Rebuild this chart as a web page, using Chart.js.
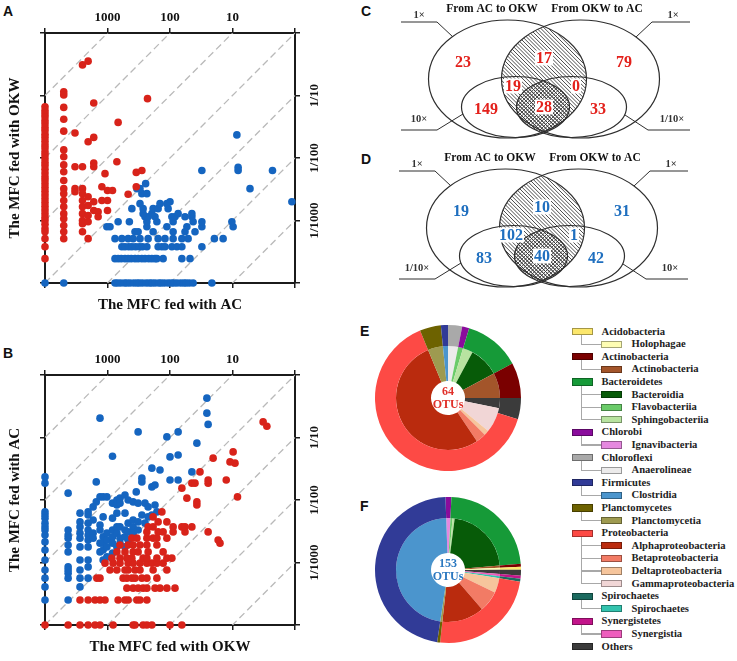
<!DOCTYPE html>
<html>
<head>
<meta charset="utf-8">
<script src="https://cdn.jsdelivr.net/npm/chart.js@4.4.1/dist/chart.umd.min.js"></script>
<style>
  html, body { margin: 0; padding: 0; background: #fff; }
  body { width: 737px; height: 661px; position: relative; overflow: hidden; }
  canvas { position: absolute; }
  .tag { position: absolute; font: bold 14px 'Liberation Sans', Arial, sans-serif; color: #111; line-height: 16px; }
  .lg-text { position: absolute; font: bold 10.6px 'Liberation Serif', 'Times New Roman', serif; color: #222; white-space: nowrap; line-height: 13px; }
  .sw { position: absolute; box-sizing: border-box; border: 1px solid rgba(0,0,0,0.35); }
  .ln { position: absolute; background: #a8a8a8; }
</style>
</head>
<body>
<div class="tag" style="left:3px;top:3px">A</div>
<div class="tag" style="left:3px;top:345px">B</div>
<div class="tag" style="left:361px;top:3px">C</div>
<div class="tag" style="left:361px;top:151px">D</div>
<div class="tag" style="left:360px;top:323px">E</div>
<div class="tag" style="left:360px;top:498px">F</div>

<canvas id="chartA" width="330" height="320" style="left:0;top:0"></canvas>
<canvas id="chartB" width="330" height="320" style="left:0;top:342px"></canvas>
<canvas id="chartC" width="360" height="148" style="left:364px;top:0"></canvas>
<canvas id="chartD" width="360" height="148" style="left:362px;top:149px"></canvas>
<canvas id="chartE" width="150" height="150" style="left:373px;top:323px"></canvas>
<canvas id="chartF" width="150" height="150" style="left:373px;top:495px"></canvas>
<div id="legend"></div>

<script>
const serif = "'Liberation Serif', 'Times New Roman', serif";
const RED = '#D8231A';
const BLUE = '#1565C0';

// axis tick labels (positions in decades, 0..4)
const rankTicks = ['', '1000', '100', '10', ''];
const abundTicks = ['', '1/1000', '1/100', '1/10', ''];
const diagOffsets = [-3, -2, -1, 0, 1, 2, 3];

// A: x = AC, y = OKW (decades from the lower/left edge)
const aRedCols = [
  [0, [2.82, 2.76, 2.71, 2.66, 2.60, 2.55, 2.49, 2.44, 2.38, 2.33, 2.27, 2.21, 2.16, 2.10, 2.05, 1.99, 1.93, 1.88, 1.82, 1.76, 1.70, 1.65, 1.59, 1.53, 1.47, 1.41, 1.35, 1.29, 1.23, 1.17, 1.11, 1.05, 1.00, 0.94, 0.87, 0.82, 0.71, 0.58, 0.39]],
  [0.30, [3.06, 3.01, 2.81, 2.62, 2.43, 2.13, 2.02, 1.89, 1.78, 1.64, 1.51, 1.43, 1.32, 1.22, 1.11, 1.03, 0.92, 0.82, 0.71]],
  [0.48, [2.40, 1.86, 1.51, 1.46]],
  [0.60, [3.49, 1.86, 1.51, 1.43, 1.32, 1.22, 1.11, 1.00, 0.95, 0.82]],
  [0.69, [3.55, 2.26, 1.38, 1.24, 1.08, 0.98, 0.71]],
  [0.78, [2.88, 2.33, 1.92, 1.86, 1.30, 1.16]],
  [0.85, [1.14, 1.06]],
  [0.91, [1.54, 1.32]],
  [0.96, [1.75]],
  [1.00, [1.48, 1.32, 1.16]],
  [1.08, [1.48]],
  [1.15, [1.94]],
  [1.17, [2.57]],
  [1.33, [1.42]],
  [1.46, [1.77, 1.54]],
  [1.55, [1.80]],
  [1.64, [2.95]]
];
const aBlueRows = [
  [0, [0, 0.30, 1.12, 1.16, 1.21, 1.27, 1.31, 1.36, 1.42, 1.47, 1.51, 1.56, 1.62, 1.67, 1.71, 1.76, 1.82, 1.86, 1.91, 1.97, 2.02, 2.06, 2.11, 2.17, 2.22, 2.26, 2.31, 2.37, 2.67]],
  [0.39, [1.12, 1.17, 1.22, 1.28, 1.33, 1.38, 1.44, 1.49, 1.55, 1.60, 1.66, 1.71, 1.76, 1.79, 1.89, 2.19, 2.32]],
  [0.58, [1.23, 1.28, 1.34, 1.39, 1.45, 1.51, 1.56, 1.63, 1.81, 1.87, 1.92, 2.03, 2.11, 2.19, 2.51]],
  [0.71, [1.12, 1.23, 1.33, 1.41, 1.52, 1.65, 1.81, 1.92, 2.05, 2.19, 2.29, 2.71, 2.85]],
  [0.82, [1.44, 1.49, 1.73, 2.05, 2.24, 2.40]],
  [0.90, [0.99, 1.04, 1.63, 1.95, 2.27, 2.51, 3.01]],
  [0.98, [1.17, 1.35, 1.63, 1.79, 2.05, 2.37, 2.51, 2.99]],
  [1.06, [1.60, 1.65, 1.76, 2.03, 2.08, 2.24, 2.35]],
  [1.11, [1.57, 1.71, 2.13, 2.35]],
  [1.19, [1.39, 1.57, 1.73, 1.81, 1.97]],
  [1.27, [1.52, 1.84, 1.95]],
  [1.30, [2.00, 3.95]],
  [1.43, [1.55, 1.63]],
  [1.51, [1.47, 1.52, 3.28]],
  [1.59, [1.61]],
  [1.80, [2.51, 3.09, 3.64]],
  [1.85, [3.09]],
  [2.37, [3.07]]
];

// B: x = OKW, y = AC
const bBlueCols = [
  [0, [2.37, 2.27, 1.81, 1.76, 1.71, 1.63, 1.57, 1.52, 1.44, 1.33, 1.20, 1.04, 0.88, 0.75, 0.61, 0.40]],
  [0.37, [2.11, 1.52, 1.44, 1.39, 1.28, 1.17, 0.93, 0.88, 0.83, 0.75, 0.40]],
  [0.56, [1.79, 1.65, 1.57, 1.47, 1.39, 1.25, 1.04, 0.88, 0.75, 0.61]],
  [0.69, [1.81, 1.76, 1.63, 1.52, 1.44, 1.36, 1.25, 1.04, 0.93, 0.75]],
  [0.77, [1.89, 1.68, 1.47, 1.39]],
  [0.82, [2.29, 1.97]],
  [0.88, [3.31, 2.05, 1.60, 1.52, 1.31, 1.17]],
  [0.93, [2.05, 1.73, 1.41, 1.31, 1.20, 1.04]],
  [0.99, [2.05, 1.47, 1.36, 1.25, 1.09]],
  [1.08, [2.70, 1.95, 1.71, 1.52, 1.41, 1.31, 1.15]],
  [1.15, [2.00, 1.92, 1.79, 1.57, 1.47, 1.25]],
  [1.20, [2.03, 1.95, 1.57, 1.39, 1.31]],
  [1.28, [2.08, 1.79, 1.52, 1.41, 1.25]],
  [1.33, [2.00, 1.63, 1.49, 1.36]],
  [1.41, [1.97, 1.68, 1.57, 1.47]],
  [1.46, [2.13]],
  [1.49, [3.09, 1.95, 1.65, 1.52]],
  [1.55, [2.35, 2.29, 1.76]],
  [1.60, [1.95, 1.63]],
  [1.65, [1.89, 1.73]],
  [1.71, [2.51, 2.21, 1.76]],
  [1.76, [2.24, 1.92]],
  [1.79, [1.81]],
  [1.84, [2.48]],
  [1.95, [3.01]],
  [2.00, [2.69, 2.32]],
  [2.13, [3.09, 2.72, 2.32]],
  [2.35, [2.45]],
  [2.43, [2.91]],
  [2.59, [3.63, 3.39]],
  [2.61, [3.21]]
];
const bRedRows = [
  [0, [0, 0.37, 0.56, 0.69, 0.80, 0.88, 1.09, 1.41, 1.44, 1.57, 1.63, 1.71, 2.00, 2.19]],
  [0.40, [0.56, 0.69, 0.80, 0.88, 0.96, 1.17, 1.28, 1.33, 1.47, 1.52, 1.63]],
  [0.59, [1.31, 1.41, 1.49, 1.57, 1.63, 1.76, 1.84, 1.95, 2.08]],
  [0.75, [0.83, 0.88, 1.25, 1.31, 1.39, 1.44, 1.55, 1.63, 1.79]],
  [0.88, [1.04, 1.15, 1.28, 1.33, 1.44, 1.52, 1.73, 1.95]],
  [0.99, [0.96, 1.09, 1.20, 1.33, 1.41, 1.52, 1.63, 1.71, 1.79, 1.89]],
  [1.07, [1.07, 1.20, 1.31, 1.39, 1.57, 1.63, 1.79, 1.95, 2.03]],
  [1.17, [1.15, 1.28, 1.41, 1.49, 1.65, 1.89]],
  [1.28, [1.20, 1.33, 1.41, 1.52, 1.63, 1.79]],
  [1.31, [2.80]],
  [1.36, [2.77]],
  [1.39, [1.39, 1.47, 1.63, 1.73, 1.79, 1.95]],
  [1.49, [1.63, 1.81, 1.89, 2.05, 2.24, 2.61]],
  [1.57, [1.65, 1.73, 2.05, 2.19, 2.24, 2.35]],
  [1.65, [1.81, 1.95]],
  [1.73, [1.73]],
  [1.81, [1.87]],
  [1.92, [2.43]],
  [1.97, [2.43]],
  [2.03, [2.27]],
  [2.05, [3.08]],
  [2.19, [2.19]],
  [2.27, [2.35, 2.40, 2.61]],
  [2.32, [2.61, 2.90]],
  [2.45, [2.48]],
  [2.59, [3.04]],
  [2.61, [2.96]],
  [2.67, [2.69]],
  [2.77, [3.01]],
  [3.18, [3.55]],
  [3.25, [3.49]]
];

// Venn counts (regions: left only, top lens, right only, left mid, right mid, small left, core, small right)
const cCounts = [23, 17, 79, 19, 0, 149, 28, 33];
const dCounts = [19, 10, 31, 102, 1, 83, 40, 42];
const vennTitles = ['From AC to OKW', 'From OKW to AC'];
const cFolds = ['1×', '1×', '10×', '1/10×'];
const dFolds = ['1×', '1×', '1/10×', '10×'];

// taxonomy legend
const phyla = ['Acidobacteria', 'Actinobacteria', 'Bacteroidetes', 'Chlorobi', 'Chloroflexi', 'Firmicutes', 'Planctomycetes', 'Proteobacteria', 'Spirochaetes', 'Synergistetes', 'Others'];
const phylumColors = ['#FCE76C', '#7A0000', '#169A38', '#8A0C9C', '#A9A9A9', '#313B97', '#6D6200', '#FD4A45', '#1B6A5F', '#C2148A', '#3B3B3B'];
const classes = ['Holophagae', 'Actinobacteria', 'Bacteroidia', 'Flavobacteriia', 'Sphingobacteriia', 'Ignavibacteria', 'Anaerolineae', 'Clostridia', 'Planctomycetia', 'Alphaproteobacteria', 'Betaproteobacteria', 'Deltaproteobacteria', 'Gammaproteobacteria', 'Spirochaetes', 'Synergistia'];
const classColors = ['#FEFDB3', '#A3552A', '#075B08', '#6ACB69', '#B8E3A0', '#E588DF', '#ECEBEB', '#4B95CD', '#9E9A50', '#BA2B0E', '#F27B65', '#F6C59C', '#F1D6D6', '#33C3AE', '#EE5DBD'];
const classPhylum = [0, 1, 2, 2, 2, 3, 4, 5, 6, 7, 7, 7, 7, 8, 9];

// E: 64 OTUs, F: 153 OTUs (clockwise from the top)
const eOuterNames = ['Chloroflexi', 'Chlorobi', 'Bacteroidetes', 'Actinobacteria', 'Others', 'Proteobacteria', 'Planctomycetes', 'Firmicutes'];
const eOuterCounts = [2, 1, 8, 5, 3, 41, 3, 1];
const eInnerNames = ['Anaerolineae', 'Flavobacteriia', 'Sphingobacteriia', 'Bacteroidia', 'Actinobacteria', 'Others', 'Gammaproteobacteria', 'Deltaproteobacteria', 'Betaproteobacteria', 'Alphaproteobacteria', 'Planctomycetia', 'Clostridia'];
const eInnerCounts = [2, 1, 2, 6, 5, 2, 5, 1, 2, 34, 3, 1];
const fOuterNames = ['Chlorobi', 'Bacteroidetes', 'Actinobacteria', 'Acidobacteria', 'Others', 'Synergistetes', 'Spirochaetes', 'Proteobacteria', 'Planctomycetes', 'Firmicutes'];
const fOuterCounts = [2, 35, 1, 1, 2, 1, 1, 37, 1, 72];
const fInnerNames = ['Ignavibacteria', 'Flavobacteriia', 'Sphingobacteriia', 'Bacteroidia', 'Actinobacteria', 'Holophagae', 'Others', 'Synergistia', 'Spirochaetes', 'Deltaproteobacteria', 'Betaproteobacteria', 'Alphaproteobacteria', 'Planctomycetia', 'Clostridia'];
const fInnerCounts = [2, 1, 1, 33, 1, 1, 2, 1, 1, 7, 10, 20, 1, 72];

// ---------- layout constants for the venn panels (px units, y up) ----------
const vennBig = [[-36.5, 0, 79, 59], [36.5, 0, 79, 59]];
const vennSmall = [[-28.5, -28, 54, 30.5], [27.5, -28, 55, 30.5]];
const vennCountPos = [[-81, 17], [0, 21], [80, 17], [-31, -7], [32, -7], [-58, -30], [0, -28], [54, -30]];
const vennTitlePos = [[-52, 70], [53, 70]];
const vennFoldPos = [[-125, 64], [129, 64], [-125, -40], [128, -40]];
const vennLeaders = [
  [[-143, 57], [-107, 57], [-91, 42]],
  [[146, 57], [108, 57], [92, 42]],
  [[-143, -51], [-107, -51], [-81, -35]],
  [[146, -51], [104, -51], [81, -36]]
];

Chart.defaults.font.family = serif;
Chart.defaults.animation = false;
Chart.defaults.plugins.legend.display = false;
Chart.defaults.plugins.tooltip.enabled = false;

const colsToPoints = cols => cols.flatMap(([x, ys]) => ys.map(y => ({ x, y })));
const rowsToPoints = rows => rows.flatMap(([y, xs]) => xs.map(x => ({ x, y })));

function buildScatter(id, red, blue, xTitle, yTitle) {
  const tickFont = { family: serif, size: 13, weight: 'bold' };
  const titleFont = { family: serif, size: 15, weight: 'bold' };
  const grid = () => ({ drawOnChartArea: false, drawTicks: true, tickLength: 5, color: '#1b1b1b', lineWidth: 1.5 });
  const border = () => ({ display: true, color: '#1b1b1b', width: 2 });
  const guides = diagOffsets.map(k => ({
    data: [{ x: 0, y: k }, { x: 4, y: 4 + k }],
    showLine: true, borderColor: '#b9b9b9', borderWidth: 1.3, borderDash: [7, 4],
    pointRadius: 0, clip: 0, order: 3
  }));
  return new Chart(document.getElementById(id), {
    type: 'scatter',
    data: {
      datasets: [
        ...guides,
        { data: blue, backgroundColor: BLUE, pointRadius: 3.8, borderWidth: 0, clip: false, order: 2 },
        { data: red, backgroundColor: RED, pointRadius: 3.8, borderWidth: 0, clip: false, order: 1 }
      ]
    },
    options: {
      responsive: false,
      layout: { padding: 0 },
      scales: {
        x: {
          type: 'linear', position: 'top', min: 0, max: 4,
          ticks: { stepSize: 1, font: tickFont, color: '#111', padding: 3, maxRotation: 0, callback: (v, i) => rankTicks[i] },
          grid: grid(), border: border(),
          afterFit: s => { s.height = 33; }
        },
        x2: {
          type: 'linear', axis: 'x', position: 'bottom', min: 0, max: 4,
          ticks: { stepSize: 1, callback: () => '' },
          grid: grid(), border: border(),
          title: { display: true, text: xTitle, font: titleFont, color: '#111', padding: { top: 0, bottom: 6 } },
          afterFit: s => { s.height = 37; }
        },
        y: {
          type: 'linear', position: 'right', min: 0, max: 4,
          ticks: { stepSize: 1, font: tickFont, color: '#111', padding: -3, minRotation: 90, maxRotation: 90, crossAlign: 'center', callback: (v, i) => abundTicks[i] },
          grid: grid(), border: border(),
          afterFit: s => { s.width = 35; }
        },
        y2: {
          type: 'linear', axis: 'y', position: 'left', min: 0, max: 4,
          ticks: { stepSize: 1, callback: () => '' },
          grid: grid(), border: border(),
          title: { display: true, text: yTitle, font: titleFont, color: '#111', padding: { top: 6, bottom: 0 } },
          afterFit: s => { s.width = 45; }
        }
      }
    }
  });
}

function vennPlugin(counts, color, folds) {
  return {
    id: 'venn',
    beforeDatasetsDraw(chart) {
      const { ctx, chartArea: a, scales: { x, y } } = chart;
      const ux = x.getPixelForValue(1) - x.getPixelForValue(0);
      const uy = y.getPixelForValue(0) - y.getPixelForValue(1);
      const ell = e => {
        ctx.beginPath();
        ctx.ellipse(x.getPixelForValue(e[0]), y.getPixelForValue(e[1]), e[2] * ux, e[3] * uy, 0, 0, Math.PI * 2);
      };
      const hatch = (dir, step) => {
        const h = a.bottom - a.top;
        ctx.beginPath();
        for (let k = a.left - h; k < a.right + h; k += step) {
          if (dir > 0) { ctx.moveTo(k, a.top); ctx.lineTo(k + h, a.bottom); }
          else { ctx.moveTo(k, a.bottom); ctx.lineTo(k + h, a.top); }
        }
        ctx.stroke();
      };
      ctx.save();
      ctx.strokeStyle = '#3a3a3a'; ctx.lineWidth = 0.9;
      ell(vennBig[0]); ctx.clip(); ell(vennBig[1]); ctx.clip();
      hatch(1, 3.8);
      ctx.restore();

      ctx.save();
      ctx.strokeStyle = '#3a3a3a'; ctx.lineWidth = 0.9;
      ell(vennSmall[0]); ctx.clip(); ell(vennSmall[1]); ctx.clip();
      hatch(1, 3.8); hatch(-1, 3.6);
      ctx.restore();

      ctx.save();
      ctx.strokeStyle = '#2e2e2e'; ctx.lineWidth = 1.2;
      [...vennBig, ...vennSmall].forEach(e => { ell(e); ctx.stroke(); });
      ctx.lineWidth = 1;
      vennLeaders.forEach(pts => {
        ctx.beginPath();
        pts.forEach(([px, py], i) => {
          const X = x.getPixelForValue(px), Y = y.getPixelForValue(py);
          if (i) ctx.lineTo(X, Y); else ctx.moveTo(X, Y);
        });
        ctx.stroke();
      });
      ctx.restore();
    },
    afterDatasetsDraw(chart) {
      const { ctx, scales: { x, y } } = chart;
      const meta = chart.getDatasetMeta(0);
      ctx.save();
      ctx.textAlign = 'center';
      ctx.textBaseline = 'middle';
      ctx.font = `bold 16px ${serif}`;
      meta.data.forEach((pt, i) => {
        const t = String(counts[i]);
        const w = ctx.measureText(t).width + 2;
        ctx.fillStyle = '#fff';
        ctx.fillRect(pt.x - w / 2, pt.y - 7.5, w, 15);
        ctx.fillStyle = color;
        ctx.fillText(t, pt.x, pt.y + 1);
      });
      ctx.fillStyle = '#111';
      ctx.font = `bold 11.5px ${serif}`;
      vennTitles.forEach((t, i) => ctx.fillText(t, x.getPixelForValue(vennTitlePos[i][0]), y.getPixelForValue(vennTitlePos[i][1])));
      ctx.fillStyle = '#333';
      ctx.font = `bold 10.5px ${serif}`;
      folds.forEach((t, i) => ctx.fillText(t, x.getPixelForValue(vennFoldPos[i][0]), y.getPixelForValue(vennFoldPos[i][1])));
      ctx.restore();
    }
  };
}

function buildVenn(id, counts, color, folds) {
  return new Chart(document.getElementById(id), {
    type: 'scatter',
    data: { datasets: [{ data: vennCountPos.map(([x, y]) => ({ x, y })), pointRadius: 0 }] },
    options: {
      responsive: false,
      layout: { padding: 0 },
      scales: {
        x: { type: 'linear', display: false, min: -180, max: 180 },
        y: { type: 'linear', display: false, min: -69, max: 79 }
      }
    },
    plugins: [vennPlugin(counts, color, folds)]
  });
}

const phylumColor = Object.fromEntries(phyla.map((p, i) => [p, phylumColors[i]]));
const classColor = Object.fromEntries(classes.map((c, i) => [c, classColors[i]]));
classColor.Others = phylumColor.Others;

function centerText(lines, color) {
  return {
    id: 'centerText',
    afterDraw(chart) {
      const { ctx, chartArea: a } = chart;
      const cx = (a.left + a.right) / 2, cy = (a.top + a.bottom) / 2;
      ctx.save();
      ctx.font = `bold 12px ${serif}`;
      ctx.fillStyle = color;
      ctx.textAlign = 'center';
      ctx.textBaseline = 'middle';
      ctx.fillText(lines[0], cx, cy - 6);
      ctx.fillText(lines[1], cx, cy + 6.5);
      ctx.restore();
    }
  };
}

function buildDonut(id, outerNames, outerCounts, innerNames, innerCounts, rotation, lines, color) {
  return new Chart(document.getElementById(id), {
    type: 'doughnut',
    data: {
      labels: outerNames,
      datasets: [
        { data: outerCounts, backgroundColor: outerNames.map(n => phylumColor[n]), borderWidth: 0, weight: 21 },
        { data: innerCounts, backgroundColor: innerNames.map(n => classColor[n]), borderWidth: 0, weight: 35 }
      ]
    },
    options: { responsive: false, cutout: '23.3%', rotation, layout: { padding: 2 } },
    plugins: [centerText(lines, color)]
  });
}

buildScatter('chartA', colsToPoints(aRedCols), rowsToPoints(aBlueRows), 'The MFC fed with AC', 'The MFC fed with OKW');
buildScatter('chartB', rowsToPoints(bRedRows), colsToPoints(bBlueCols), 'The MFC fed with OKW', 'The MFC fed with AC');
buildVenn('chartC', cCounts, '#E3201B', cFolds);
buildVenn('chartD', dCounts, '#1F6FBF', dFolds);
buildDonut('chartE', eOuterNames, eOuterCounts, eInnerNames, eInnerCounts, 0, ['64', 'OTUs'], '#E0302A');
buildDonut('chartF', fOuterNames, fOuterCounts, fInnerNames, fInnerCounts, -2, ['153', 'OTUs'], '#2A78C0');

// legend tree
const legend = document.getElementById('legend');
function addBox(cls, left, top, w, h, bg) {
  const d = document.createElement('div');
  d.className = cls;
  Object.assign(d.style, { left: left + 'px', top: top + 'px', width: w + 'px', height: h + 'px' });
  if (bg) d.style.background = bg;
  legend.appendChild(d);
}
function addText(left, cy, text) {
  const d = document.createElement('div');
  d.className = 'lg-text';
  d.textContent = text;
  Object.assign(d.style, { left: left + 'px', top: (cy - 7) + 'px' });
  legend.appendChild(d);
}
const rowY = i => 331.5 + 12.6 * i;
let row = 0;
phyla.forEach((p, pi) => {
  const y0 = rowY(row);
  addBox('sw', 572, y0 - 3.6, 21, 7.3, phylumColors[pi]);
  addText(601.5, y0, p);
  row++;
  const kids = classes.map((c, ci) => ci).filter(ci => classPhylum[ci] === pi);
  let lastY = null;
  kids.forEach(ci => {
    const y = rowY(row);
    addBox('ln', 581, y - 0.6, 20, 1.3);
    addBox('sw', 601, y - 3.6, 21, 7.3, classColors[ci]);
    addText(631.5, y, classes[ci]);
    lastY = y;
    row++;
  });
  if (lastY !== null) addBox('ln', 581, y0 + 3.7, 1.3, lastY - y0 - 3.0);
});
</script>
</body>
</html>
